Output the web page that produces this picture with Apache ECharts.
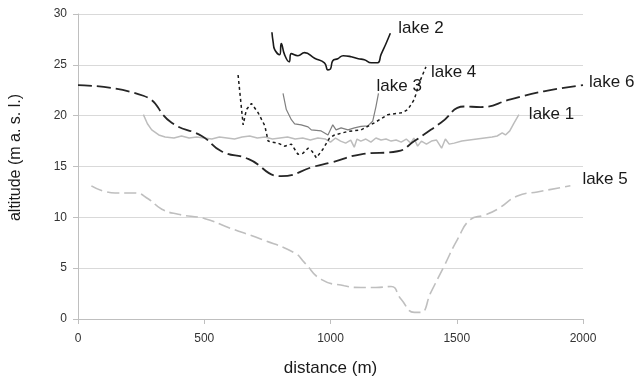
<!DOCTYPE html>
<html lang="en">
<head>
<meta charset="utf-8">
<script src="https://cdn.jsdelivr.net/npm/echarts@6/dist/echarts.min.js"></script>
<style>
  html, body { margin: 0; padding: 0; background: #fff; }
  #chartMain { width: 636px; height: 382px; }
</style>
</head>
<body>
<div id="chartMain"></div>

<script>
    // distance (m), altitude (m a.s.l.)
    var lake1 = [[259,20.1],[275,19.2],[292,18.6],[320,18.1],[345,17.9],[380,17.8],[410,18.0],[440,17.8],[470,17.9],[500,17.8],[530,17.7],[560,17.9],[590,17.8],[620,17.7],[650,17.9],[680,18.0],[710,17.8],[740,17.9],[770,17.7],[800,17.8],[830,17.9],[860,17.7],[890,17.8],[920,17.6],[950,17.8],[980,17.7],[1000,17.4],[1020,17.8],[1040,17.5],[1060,17.3],[1080,17.6],[1094,16.9],[1105,17.7],[1120,17.5],[1140,17.7],[1160,17.4],[1180,17.8],[1200,17.6],[1220,17.7],[1240,17.5],[1260,17.6],[1280,17.4],[1300,17.7],[1318,17.3],[1330,17.8],[1345,17.0],[1360,17.5],[1380,17.2],[1400,17.5],[1420,17.6],[1440,16.8],[1455,17.7],[1470,17.2],[1490,17.3],[1520,17.5],[1550,17.6],[1580,17.7],[1610,17.8],[1640,17.9],[1660,18.0],[1680,18.3],[1693,18.1],[1710,18.5],[1725,19.2],[1746,20.1]];
    var lake2 = [[768,28.2],[773,27.2],[779,26.5],[799,26.0],[805,27.1],[818,26.0],[836,25.3],[845,26.1],[871,25.9],[897,26.2],[937,25.65],[976,25.2],[990,24.5],[1000,24.6],[1009,25.4],[1029,25.6],[1050,25.9],[1082,25.8],[1110,25.6],[1134,25.5],[1161,25.2],[1187,25.2],[1200,26.0],[1220,27.1],[1237,28.1]];
    var lake3 = [[812,22.2],[825,20.6],[845,19.6],[858,19.2],[884,19.1],[911,18.9],[924,18.6],[963,18.5],[990,18.1],[1009,19.1],[1022,18.6],[1042,18.8],[1069,18.6],[1095,18.8],[1121,18.95],[1148,19.0],[1167,19.45],[1180,20.9],[1190,22.2]];
    var lake4 = [[634,24.0],[654,19.1],[667,20.6],[687,21.2],[713,20.3],[740,19.0],[753,17.5],[770,17.4],[792,17.3],[818,17.0],[845,17.2],[871,16.2],[891,16.3],[911,16.8],[927,16.5],[944,15.85],[970,16.7],[996,17.8],[1016,18.1],[1069,18.45],[1121,18.6],[1174,19.3],[1227,20.1],[1286,20.3],[1306,20.6],[1332,21.6],[1351,23.2],[1378,24.8]];
    var lake5 = [[53,13.1],[147,12.4],[225,12.4],[279,11.8],[332,10.8],[397,10.3],[503,9.87],[595,9.0],[726,7.84],[858,6.5],[897,5.55],[963,3.9],[1055,3.27],[1121,3.1],[1180,3.1],[1240,3.2],[1279,1.96],[1332,0.65],[1358,0.65],[1397,2.6],[1450,5.2],[1503,7.84],[1555,9.8],[1608,10.2],[1661,10.8],[1740,12.1],[1819,12.5],[1950,13.1]];
    var lake6 = [[0,23.0],[259,21.96],[371,19.3],[490,18.0],[568,16.5],[674,15.75],[805,14.05],[936,15.0],[1003,15.4],[1121,16.2],[1266,16.5],[1332,17.5],[1437,19.3],[1529,20.9],[1595,20.85],[1713,21.6],[1845,22.4],[2000,23.0]];

    var xTicks = { min: 0, max: 2000, interval: 500 };
    var yTicks = { min: 0, max: 30, interval: 5 };

    var fontFam = 'Liberation Sans, Arial, sans-serif';

    function lakeSeries(name, data, color, width, dash, smooth, offset) {
        return {
            name: name,
            type: 'line',
            data: data,
            showSymbol: false,
            symbol: 'none',
            smooth: smooth,
            lineStyle: { color: color, width: width, type: dash },
            endLabel: {
                show: true,
                formatter: '{a}',
                offset: offset,
                fontFamily: fontFam,
                fontSize: 17,
                color: '#1a1a1a'
            },
            emphasis: { disabled: true }
        };
    }

    var myChart = echarts.init(document.getElementById('chartMain'));

    myChart.setOption({
        animation: false,
        grid: { left: 76, right: 53, top: 14, bottom: 62 },
        xAxis: {
            type: 'value',
            min: xTicks.min, max: xTicks.max, interval: xTicks.interval,
            name: 'distance (m)',
            nameLocation: 'middle',
            nameGap: 41,
            nameTextStyle: { fontFamily: fontFam, fontSize: 17, color: '#1a1a1a' },
            axisLine: { show: true, lineStyle: { color: '#bfbfbf' } },
            axisTick: { show: true, length: 5, lineStyle: { color: '#bfbfbf' } },
            axisLabel: {
                margin: 14, fontFamily: fontFam, fontSize: 12, color: '#333',
                formatter: function (v) { return String(v); }
            },
            splitLine: { show: false }
        },
        yAxis: {
            type: 'value',
            min: yTicks.min, max: yTicks.max, interval: yTicks.interval,
            name: 'altitude (m a. s. l.)',
            nameLocation: 'middle',
            nameGap: 54,
            nameTextStyle: { fontFamily: fontFam, fontSize: 16, color: '#1a1a1a', padding: [0, 0, 0, 18] },
            axisLine: { show: true, lineStyle: { color: '#bfbfbf' } },
            axisTick: { show: true, length: 5, lineStyle: { color: '#bfbfbf' } },
            axisLabel: { margin: 11, fontFamily: fontFam, fontSize: 12, color: '#333' },
            splitLine: { show: true, lineStyle: { color: '#d9d9d9', width: 1 } }
        },
        series: [
            lakeSeries('lake 1', lake1, '#bdbdbd', 1.5, 'solid', false, [2, 0]),
            lakeSeries('lake 2', lake2, '#1a1a1a', 1.6, 'solid', true, [0, -5]),
            lakeSeries('lake 3', lake3, '#7f7f7f', 1.2, 'solid', false, [-10, -7]),
            lakeSeries('lake 4', lake4, '#1a1a1a', 1.5, [3, 3], false, [-3, 5]),
            lakeSeries('lake 5', lake5, '#bfbfbf', 1.6, [12, 5], true, [4, -7]),
            lakeSeries('lake 6', lake6, '#262626', 1.8, [14, 5], true, [-2, -3])
        ]
    });
</script>
</body>
</html>
